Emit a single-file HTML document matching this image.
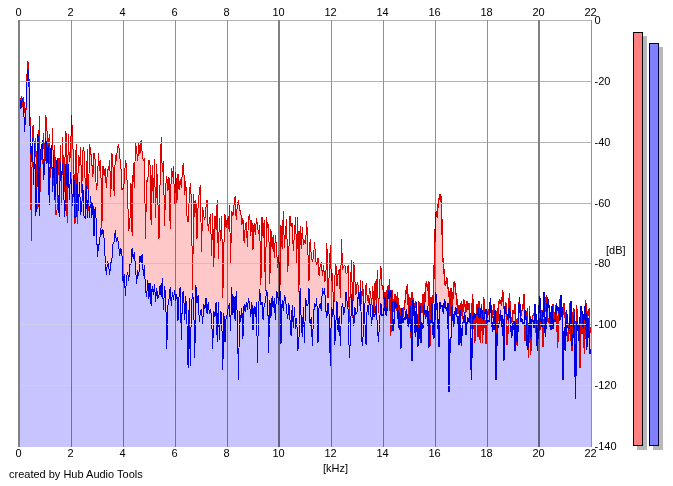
<!DOCTYPE html>
<html><head><meta charset="utf-8"><title>Spectrum</title>
<style>
html,body{margin:0;padding:0;background:#fff;}
body{width:673px;height:486px;overflow:hidden;position:relative;}
svg{position:absolute;left:0;top:0;}
text{font-family:"Liberation Sans",Arial,sans-serif;font-size:11px;fill:#000;}
</style></head><body>
<svg width="673" height="486" viewBox="0 0 673 486">
<g shape-rendering="crispEdges">
<path d="M20.0,447.0 L20.0,130.0 L19.0,130.0 L20.1,105.0 L21.2,96.5 L22.4,106.5 L23.5,97.4 L24.6,106.7 L25.7,122.6 L26.3,98.0 L26.8,80.0 L27.3,66.0 L27.7,61.0 L28.1,64.0 L28.5,62.0 L29.0,78.0 L29.6,100.0 L30.2,124.0 L31.3,241.0 L32.4,127.0 L33.6,126.0 L34.7,165.0 L35.8,138.0 L36.9,203.7 L38.0,208.7 L39.2,116.0 L40.3,192.2 L41.4,143.7 L42.5,163.8 L43.6,132.6 L44.8,164.0 L45.9,115.0 L47.0,130.7 L48.1,159.5 L49.2,134.4 L50.4,178.3 L51.5,161.5 L52.6,128.0 L53.7,185.7 L54.8,145.5 L56.0,215.4 L57.1,209.5 L58.2,158.5 L59.3,181.0 L60.4,145.5 L61.5,205.0 L62.7,137.0 L63.8,199.7 L64.9,159.9 L66.0,130.7 L67.1,222.7 L68.3,134.4 L69.4,162.0 L70.5,154.1 L71.6,115.0 L72.7,141.8 L73.9,168.4 L75.0,224.0 L76.1,143.7 L77.2,224.3 L78.3,154.8 L79.5,165.5 L80.6,147.4 L81.7,193.4 L82.8,151.0 L83.9,147.4 L85.1,180.7 L86.2,193.6 L87.3,149.0 L88.4,211.0 L89.5,143.7 L90.7,151.0 L91.8,162.9 L92.9,176.8 L94.0,153.0 L95.1,160.0 L96.3,189.7 L97.4,183.3 L98.5,153.0 L99.6,171.0 L100.7,160.0 L101.9,228.0 L103.0,166.0 L104.1,176.0 L105.2,167.8 L106.3,188.0 L107.5,169.6 L108.6,169.6 L109.7,160.0 L110.8,196.9 L111.9,153.0 L113.1,167.8 L114.2,195.8 L115.3,154.8 L116.4,161.4 L117.5,146.9 L118.7,144.0 L119.8,157.5 L120.9,166.0 L122.0,190.0 L123.1,188.4 L124.3,183.0 L125.4,159.8 L126.5,166.0 L127.6,196.1 L128.7,231.0 L129.9,222.4 L131.0,183.0 L132.1,235.7 L133.2,162.6 L134.3,188.3 L135.5,143.0 L136.6,149.6 L137.7,160.9 L138.8,143.0 L139.9,153.9 L141.1,140.4 L142.2,153.3 L143.3,160.5 L144.4,158.9 L145.5,238.9 L146.6,181.0 L147.8,181.5 L148.9,159.8 L150.0,164.4 L151.1,225.1 L152.2,165.4 L153.4,202.5 L154.5,158.9 L155.6,218.3 L156.7,164.4 L157.8,197.3 L159.0,239.0 L160.1,180.3 L161.2,136.7 L162.3,172.0 L163.4,160.7 L164.6,226.0 L165.7,185.4 L166.8,175.6 L167.9,191.4 L169.0,177.4 L170.2,228.9 L171.3,168.0 L172.4,177.1 L173.5,166.3 L174.6,204.0 L175.8,171.8 L176.9,203.0 L178.0,173.7 L179.1,190.4 L180.2,179.0 L181.4,187.8 L182.5,168.0 L183.6,162.6 L184.7,194.9 L185.8,181.0 L187.0,216.3 L188.1,222.0 L189.2,198.6 L190.3,183.0 L191.4,200.2 L192.6,290.0 L193.7,194.0 L194.8,216.5 L195.9,199.6 L197.0,239.0 L198.2,203.0 L199.3,192.0 L200.4,184.8 L201.5,251.7 L202.6,207.0 L203.8,216.0 L204.9,219.5 L206.0,207.0 L207.1,199.6 L208.2,231.3 L209.4,220.0 L210.5,214.4 L211.6,256.2 L212.7,213.5 L213.8,267.3 L215.0,216.0 L216.1,230.3 L217.2,200.5 L218.3,258.5 L219.4,218.0 L220.6,240.8 L221.7,216.0 L222.8,298.0 L223.9,245.0 L225.0,214.4 L226.1,227.8 L227.3,218.0 L228.4,229.3 L229.5,205.0 L230.6,263.1 L231.7,210.7 L232.9,216.2 L234.0,205.0 L235.1,196.0 L236.2,220.3 L237.3,205.0 L238.5,200.5 L239.6,210.9 L240.7,210.7 L241.8,225.4 L242.9,218.0 L244.1,243.2 L245.2,227.9 L246.3,221.8 L247.4,246.9 L248.5,218.0 L249.7,214.4 L250.8,235.5 L251.9,220.0 L253.0,249.8 L254.1,222.8 L255.3,235.2 L256.4,218.0 L257.5,225.5 L258.6,234.2 L259.7,225.5 L260.9,285.0 L262.0,217.0 L263.1,237.7 L264.2,220.0 L265.3,291.0 L266.5,217.0 L267.6,227.8 L268.7,223.7 L269.8,283.5 L270.9,229.0 L272.1,248.7 L273.2,234.8 L274.3,258.3 L275.4,234.8 L276.5,247.8 L277.7,268.1 L278.8,255.0 L279.9,292.4 L281.0,225.5 L282.1,249.2 L283.3,210.7 L284.4,247.7 L285.5,232.0 L286.6,219.0 L287.7,272.2 L288.9,249.5 L290.0,216.0 L291.1,227.0 L292.2,222.8 L293.3,251.3 L294.5,232.0 L295.6,217.0 L296.7,262.6 L297.8,217.0 L298.9,291.5 L300.1,226.5 L301.2,249.3 L302.3,227.4 L303.4,245.0 L304.5,241.0 L305.6,242.8 L306.8,221.0 L307.9,252.3 L309.0,280.5 L310.1,239.0 L311.2,254.1 L312.4,262.1 L313.5,256.0 L314.6,242.0 L315.7,260.4 L316.8,264.8 L318.0,258.0 L319.1,276.0 L320.2,265.7 L321.3,261.7 L322.4,275.8 L323.6,265.0 L324.7,282.4 L325.8,276.8 L326.9,243.0 L328.0,298.2 L329.2,274.8 L330.3,245.0 L331.4,280.7 L332.5,272.8 L333.6,314.7 L334.8,278.3 L335.9,263.5 L337.0,286.4 L338.1,273.5 L339.2,269.0 L340.4,298.2 L341.5,239.4 L342.6,268.6 L343.7,266.6 L344.8,265.0 L346.0,273.4 L347.1,272.9 L348.2,265.0 L349.3,321.6 L350.4,284.5 L351.6,260.0 L352.7,318.1 L353.8,261.7 L354.9,280.0 L356.0,294.6 L357.2,282.0 L358.3,286.1 L359.4,306.3 L360.5,280.0 L361.6,303.6 L362.8,281.0 L363.9,322.4 L365.0,303.3 L366.1,283.0 L367.2,297.0 L368.4,302.9 L369.5,288.0 L370.6,293.7 L371.7,304.8 L372.8,286.0 L374.0,313.7 L375.1,280.7 L376.2,303.9 L377.3,269.6 L378.4,312.8 L379.6,286.0 L380.7,266.0 L381.8,285.4 L382.9,286.0 L384.0,299.2 L385.2,292.0 L386.3,312.8 L387.4,286.0 L388.5,295.3 L389.6,279.0 L390.7,335.9 L391.9,290.0 L393.0,301.0 L394.1,312.1 L395.2,293.7 L396.3,310.9 L397.5,292.0 L398.6,311.9 L399.7,304.8 L400.8,335.1 L401.9,308.5 L403.1,317.1 L404.2,306.7 L405.3,299.8 L406.4,288.0 L407.5,286.0 L408.7,318.1 L409.8,297.4 L410.9,337.5 L412.0,292.0 L413.1,300.0 L414.3,314.3 L415.4,301.0 L416.5,304.8 L417.6,338.0 L418.7,301.0 L419.9,308.6 L421.0,303.0 L422.1,313.1 L423.2,293.7 L424.3,315.3 L425.5,284.4 L426.6,282.6 L427.7,290.6 L428.8,280.7 L429.9,345.6 L431.1,297.4 L432.2,313.8 L433.3,293.7 L433.5,290.0 L434.3,262.0 L435.0,235.0 L435.8,214.0 L436.5,211.0 L437.3,218.0 L438.0,205.0 L438.8,200.0 L439.5,197.0 L440.3,194.0 L441.0,197.0 L441.6,210.0 L442.2,235.0 L442.8,258.0 L443.5,265.0 L444.3,275.0 L445.2,285.0 L445.6,286.0 L446.7,277.0 L447.9,288.3 L449.0,291.8 L450.1,315.5 L451.2,288.0 L452.3,309.2 L453.5,286.0 L454.6,280.7 L455.7,292.0 L456.8,299.0 L457.9,314.2 L459.1,304.8 L460.2,330.8 L461.3,301.0 L462.4,319.4 L463.5,299.0 L464.7,303.0 L465.8,312.5 L466.9,301.0 L468.0,310.3 L469.1,303.0 L470.2,323.3 L471.4,329.2 L472.5,294.0 L473.6,312.6 L474.7,342.6 L475.8,323.5 L477.0,304.0 L478.1,337.4 L479.2,300.7 L480.3,343.1 L481.4,304.0 L482.6,343.3 L483.7,297.0 L484.8,319.3 L485.9,343.5 L487.0,313.6 L488.2,310.8 L489.3,315.3 L490.4,299.0 L491.5,314.0 L492.6,317.5 L493.8,304.0 L494.9,322.9 L496.0,311.1 L497.1,344.4 L498.2,308.1 L499.4,299.8 L500.5,301.6 L501.6,305.4 L502.7,289.6 L503.8,307.7 L505.0,306.8 L506.1,302.6 L507.2,345.2 L508.3,324.8 L509.4,293.0 L510.6,317.1 L511.7,323.1 L512.8,310.1 L513.9,313.8 L515.0,304.0 L516.2,326.5 L517.3,346.1 L518.4,312.2 L519.5,299.0 L520.6,317.4 L521.8,310.5 L522.9,308.5 L524.0,294.0 L525.1,341.2 L526.2,324.4 L527.4,308.4 L528.5,357.6 L529.6,306.0 L530.7,355.0 L531.8,320.9 L533.0,315.5 L534.1,313.7 L535.2,308.0 L536.3,334.9 L537.4,331.5 L538.6,315.1 L539.7,330.9 L540.8,324.7 L541.9,310.0 L543.0,347.0 L544.2,319.4 L545.3,306.4 L546.4,295.0 L547.5,321.6 L548.6,317.8 L549.8,327.3 L550.9,317.8 L552.0,313.9 L553.1,304.0 L554.2,319.5 L555.3,311.7 L556.5,302.6 L557.6,348.1 L558.7,314.0 L559.8,299.0 L560.9,306.8 L562.1,312.6 L563.2,313.8 L564.3,302.6 L565.4,321.8 L566.5,328.9 L567.7,341.6 L568.8,335.3 L569.9,303.0 L571.0,338.2 L572.1,350.5 L573.3,308.9 L574.4,309.3 L575.5,350.8 L576.6,305.0 L577.7,324.3 L578.9,326.5 L580.0,368.0 L581.1,307.6 L582.2,334.4 L583.3,328.1 L584.5,354.0 L585.6,300.0 L586.7,318.3 L587.8,312.0 L588.9,310.0 L590.1,333.1 L591.0,333.1 L591.0,447.0 Z" fill="#ffc8c8"/>
<path d="M20.0,447.0 L20.0,215.0 L19.0,215.0 L20.1,100.0 L21.2,107.7 L22.4,98.0 L23.5,104.0 L24.6,132.1 L25.7,112.0 L26.3,104.0 L26.8,88.0 L27.3,74.0 L27.7,69.0 L28.1,72.0 L28.5,70.0 L29.0,87.0 L29.6,108.0 L30.2,134.0 L31.3,161.7 L32.4,138.0 L33.6,184.5 L34.7,143.0 L35.8,215.7 L36.9,193.2 L38.0,134.0 L39.2,215.8 L40.3,150.0 L41.4,148.7 L42.5,140.0 L43.6,179.5 L44.8,166.1 L45.9,138.0 L47.0,163.5 L48.1,145.5 L49.2,204.5 L50.4,150.5 L51.5,145.5 L52.6,191.5 L53.7,155.0 L54.8,200.1 L56.0,184.4 L57.1,158.5 L58.2,202.5 L59.3,216.6 L60.4,162.0 L61.5,177.7 L62.7,164.0 L63.8,196.4 L64.9,216.9 L66.0,164.0 L67.1,186.5 L68.3,164.0 L69.4,200.2 L70.5,172.0 L71.6,186.7 L72.7,205.7 L73.9,175.0 L75.0,217.3 L76.1,216.4 L77.2,177.0 L78.3,211.4 L79.5,182.0 L80.6,214.9 L81.7,208.0 L82.8,184.0 L83.9,215.5 L85.1,217.7 L86.2,186.0 L87.3,217.8 L88.4,190.0 L89.5,217.9 L90.7,196.0 L91.8,218.0 L92.9,203.0 L94.0,236.4 L95.1,207.0 L96.3,222.0 L97.4,256.7 L98.5,246.0 L99.6,242.6 L100.7,227.8 L101.9,234.8 L103.0,229.6 L104.1,239.0 L105.2,259.0 L106.3,275.2 L107.5,261.0 L108.6,264.8 L109.7,274.8 L110.8,263.0 L111.9,260.0 L113.1,242.6 L114.2,241.9 L115.3,229.6 L116.4,242.0 L117.5,237.0 L118.7,246.3 L119.8,255.8 L120.9,248.0 L122.0,255.6 L123.1,283.0 L124.3,274.0 L125.4,295.9 L126.5,277.8 L127.6,272.0 L128.7,280.8 L129.9,264.8 L131.0,264.6 L132.1,248.0 L133.2,259.4 L134.3,251.9 L135.5,266.7 L136.6,283.8 L137.7,270.4 L138.8,275.7 L139.9,255.6 L141.1,262.7 L142.2,253.7 L143.3,275.8 L144.4,264.8 L145.5,290.0 L146.6,296.7 L147.8,279.6 L148.9,299.2 L150.0,283.0 L151.1,306.3 L152.2,286.0 L153.4,294.8 L154.5,284.0 L155.6,301.5 L156.7,288.0 L157.8,298.9 L159.0,294.9 L160.1,285.0 L161.2,296.6 L162.3,277.8 L163.4,309.7 L164.6,286.0 L165.7,296.9 L166.8,349.0 L167.9,305.8 L169.0,299.4 L170.2,287.0 L171.3,306.0 L172.4,292.0 L173.5,299.5 L174.6,290.0 L175.8,300.6 L176.9,294.0 L178.0,321.1 L179.1,294.7 L180.2,287.0 L181.4,340.0 L182.5,293.0 L183.6,292.0 L184.7,320.2 L185.8,296.5 L187.0,325.0 L188.1,368.0 L189.2,297.6 L190.3,366.0 L191.4,306.1 L192.6,292.8 L193.7,304.0 L194.8,357.6 L195.9,285.4 L197.0,303.4 L198.2,294.6 L199.3,322.3 L200.4,311.0 L201.5,309.4 L202.6,323.9 L203.8,304.0 L204.9,309.1 L206.0,298.0 L207.1,314.0 L208.2,302.0 L209.4,313.7 L210.5,309.4 L211.6,316.8 L212.7,349.0 L213.8,311.0 L215.0,316.8 L216.1,302.0 L217.2,341.8 L218.3,302.0 L219.4,339.6 L220.6,311.0 L221.7,315.0 L222.8,369.5 L223.9,313.0 L225.0,342.0 L226.1,316.8 L227.3,314.8 L228.4,305.7 L229.5,304.0 L230.6,331.4 L231.7,287.0 L232.9,314.7 L234.0,296.5 L235.1,321.3 L236.2,291.0 L237.3,316.8 L238.5,379.8 L239.6,311.0 L240.7,321.9 L241.8,307.6 L242.9,339.2 L244.1,304.0 L245.2,312.2 L246.3,302.0 L247.4,309.9 L248.5,298.0 L249.7,305.7 L250.8,316.6 L251.9,302.0 L253.0,330.1 L254.1,305.7 L255.3,317.1 L256.4,302.0 L257.5,362.7 L258.6,307.7 L259.7,289.0 L260.9,304.9 L262.0,302.0 L263.1,320.0 L264.2,304.0 L265.3,302.4 L266.5,291.0 L267.6,292.8 L268.7,352.5 L269.8,300.0 L270.9,318.4 L272.1,296.5 L273.2,308.4 L274.3,298.0 L275.4,320.3 L276.5,291.0 L277.7,294.6 L278.8,304.9 L279.9,285.4 L281.0,343.6 L282.1,300.0 L283.3,310.5 L284.4,296.0 L285.5,297.8 L286.6,310.3 L287.7,319.4 L288.9,303.0 L290.0,319.8 L291.1,335.7 L292.2,305.0 L293.3,327.8 L294.5,307.0 L295.6,329.2 L296.7,318.0 L297.8,350.8 L298.9,342.4 L300.1,287.6 L301.2,320.5 L302.3,337.3 L303.4,307.0 L304.5,342.8 L305.6,297.8 L306.8,305.4 L307.9,305.9 L309.0,288.5 L310.1,325.8 L311.2,317.2 L312.4,345.6 L313.5,315.2 L314.6,303.0 L315.7,307.0 L316.8,298.0 L318.0,343.0 L319.1,305.0 L320.2,304.2 L321.3,311.2 L322.4,288.5 L323.6,294.0 L324.7,288.5 L325.8,310.0 L326.9,317.8 L328.0,303.0 L329.2,316.3 L330.3,366.0 L331.4,307.0 L332.5,317.4 L333.6,299.6 L334.8,345.0 L335.9,322.5 L337.0,301.5 L338.1,332.0 L339.2,315.8 L340.4,345.6 L341.5,309.7 L342.6,303.0 L343.7,313.2 L344.8,310.8 L346.0,292.0 L347.1,301.7 L348.2,310.7 L349.3,357.6 L350.4,339.7 L351.6,294.0 L352.7,310.5 L353.8,326.3 L354.9,307.0 L356.0,314.4 L357.2,311.6 L358.3,292.0 L359.4,302.1 L360.5,286.7 L361.6,340.5 L362.8,345.8 L363.9,301.5 L365.0,324.5 L366.1,345.3 L367.2,305.0 L368.4,315.0 L369.5,297.8 L370.6,310.9 L371.7,326.2 L372.8,305.0 L374.0,316.7 L375.1,314.2 L376.2,304.0 L377.3,325.7 L378.4,342.3 L379.6,321.7 L380.7,303.0 L381.8,315.3 L382.9,315.8 L384.0,310.3 L385.2,297.0 L386.3,316.0 L387.4,305.3 L388.5,290.0 L389.6,298.6 L390.7,290.0 L391.9,302.1 L393.0,331.3 L394.1,321.3 L395.2,301.0 L396.3,307.5 L397.5,303.0 L398.6,328.3 L399.7,312.5 L400.8,349.0 L401.9,308.0 L403.1,322.8 L404.2,317.9 L405.3,318.9 L406.4,309.0 L407.5,323.0 L408.7,327.1 L409.8,306.0 L410.9,319.8 L412.0,361.0 L413.1,300.0 L414.3,309.2 L415.4,337.3 L416.5,302.0 L417.6,347.3 L418.7,342.6 L419.9,306.0 L421.0,343.1 L422.1,323.9 L423.2,325.7 L424.3,304.0 L425.5,317.2 L426.6,314.8 L427.7,306.0 L428.8,347.6 L429.9,321.1 L431.1,321.9 L432.2,303.0 L433.3,337.9 L434.4,337.5 L435.5,292.0 L436.7,301.5 L437.8,318.5 L438.9,346.5 L440.0,302.0 L441.1,306.1 L442.3,306.1 L443.4,313.6 L444.5,299.0 L445.6,307.1 L446.7,309.5 L447.9,303.0 L449.0,391.8 L450.1,339.2 L451.2,337.5 L452.3,305.0 L453.5,326.6 L454.6,316.7 L455.7,307.0 L456.8,316.3 L457.9,316.5 L459.1,345.2 L460.2,310.0 L461.3,345.9 L462.4,324.4 L463.5,320.9 L464.7,312.0 L465.8,335.4 L466.9,323.1 L468.0,318.4 L469.1,322.0 L470.2,313.0 L471.4,379.8 L472.5,323.6 L473.6,312.0 L474.7,318.5 L475.8,314.7 L477.0,314.6 L478.1,307.0 L479.2,318.3 L480.3,316.7 L481.4,306.0 L482.6,318.2 L483.7,319.8 L484.8,313.9 L485.9,309.0 L487.0,322.2 L488.2,321.1 L489.3,321.5 L490.4,298.0 L491.5,318.2 L492.6,332.0 L493.8,319.0 L494.9,310.0 L496.0,379.8 L497.1,334.4 L498.2,324.1 L499.4,323.6 L500.5,310.0 L501.6,326.9 L502.7,314.8 L503.8,361.0 L505.0,306.0 L506.1,313.7 L507.2,314.7 L508.3,320.9 L509.4,305.0 L510.6,323.3 L511.7,338.0 L512.8,323.8 L513.9,321.3 L515.0,350.8 L516.2,322.8 L517.3,343.0 L518.4,320.8 L519.5,297.0 L520.6,322.1 L521.8,319.4 L522.9,323.7 L524.0,324.7 L525.1,310.0 L526.2,319.5 L527.4,350.3 L528.5,343.7 L529.6,312.0 L530.7,339.1 L531.8,320.3 L533.0,321.0 L534.1,327.8 L535.2,304.0 L536.3,322.5 L537.4,350.5 L538.6,317.0 L539.7,296.0 L540.8,318.5 L541.9,326.6 L543.0,315.0 L544.2,292.0 L545.3,336.8 L546.4,320.0 L547.5,297.0 L548.6,303.4 L549.8,312.0 L550.9,329.6 L552.0,306.0 L553.1,328.9 L554.2,318.7 L555.3,322.2 L556.5,304.0 L557.6,310.7 L558.7,306.8 L559.8,321.0 L560.9,295.0 L562.1,310.4 L563.2,379.8 L564.3,327.2 L565.4,351.3 L566.5,310.0 L567.7,326.5 L568.8,329.1 L569.9,323.8 L571.0,301.0 L572.1,345.5 L573.3,332.5 L574.4,312.5 L575.5,398.6 L576.6,320.7 L577.7,323.4 L578.9,340.8 L580.0,320.1 L581.1,306.0 L582.2,314.4 L583.3,328.5 L584.5,309.6 L585.6,304.0 L586.7,350.2 L587.8,318.1 L588.9,331.8 L590.1,354.0 L591.0,354.0 L591.0,447.0 Z" fill="#c8c4ff"/>
<rect x="33" y="142" width="1" height="1" fill="#e8b4b4"/>
<rect x="39" y="142" width="1" height="1" fill="#e8b4b4"/>
<rect x="43" y="142" width="1" height="1" fill="#e8b4b4"/>
<rect x="45" y="142" width="2" height="1" fill="#e8b4b4"/>
<rect x="52" y="142" width="1" height="1" fill="#e8b4b4"/>
<rect x="68" y="142" width="1" height="1" fill="#e8b4b4"/>
<rect x="72" y="142" width="1" height="1" fill="#e8b4b4"/>
<rect x="58" y="203" width="2" height="1" fill="#e8b4b4"/>
<rect x="64" y="203" width="1" height="1" fill="#e8b4b4"/>
<rect x="75" y="203" width="1" height="1" fill="#e8b4b4"/>
<rect x="78" y="203" width="1" height="1" fill="#e8b4b4"/>
<rect x="80" y="203" width="2" height="1" fill="#e8b4b4"/>
<rect x="84" y="203" width="2" height="1" fill="#e8b4b4"/>
<rect x="87" y="203" width="1" height="1" fill="#e8b4b4"/>
<rect x="89" y="203" width="1" height="1" fill="#e8b4b4"/>
<rect x="91" y="203" width="10" height="1" fill="#e8b4b4"/>
<rect x="102" y="203" width="21" height="1" fill="#e8b4b4"/>
<rect x="124" y="203" width="4" height="1" fill="#e8b4b4"/>
<rect x="130" y="203" width="1" height="1" fill="#e8b4b4"/>
<rect x="133" y="203" width="12" height="1" fill="#e8b4b4"/>
<rect x="146" y="203" width="5" height="1" fill="#e8b4b4"/>
<rect x="152" y="203" width="3" height="1" fill="#e8b4b4"/>
<rect x="156" y="203" width="2" height="1" fill="#e8b4b4"/>
<rect x="160" y="203" width="4" height="1" fill="#e8b4b4"/>
<rect x="165" y="203" width="5" height="1" fill="#e8b4b4"/>
<rect x="171" y="203" width="4" height="1" fill="#e8b4b4"/>
<rect x="176" y="203" width="11" height="1" fill="#e8b4b4"/>
<rect x="189" y="203" width="2" height="1" fill="#e8b4b4"/>
<rect x="198" y="203" width="3" height="1" fill="#e8b4b4"/>
<rect x="234" y="203" width="1" height="1" fill="#e8b4b4"/>
<rect x="238" y="203" width="1" height="1" fill="#e8b4b4"/>
<rect x="438" y="203" width="3" height="1" fill="#e8b4b4"/>
<rect x="106" y="263" width="1" height="1" fill="#e8b4b4"/>
<rect x="108" y="263" width="3" height="1" fill="#e8b4b4"/>
<rect x="122" y="263" width="1" height="1" fill="#e8b4b4"/>
<rect x="124" y="263" width="7" height="1" fill="#e8b4b4"/>
<rect x="135" y="263" width="4" height="1" fill="#e8b4b4"/>
<rect x="143" y="263" width="32" height="1" fill="#e8b4b4"/>
<rect x="176" y="263" width="16" height="1" fill="#e8b4b4"/>
<rect x="193" y="263" width="29" height="1" fill="#e8b4b4"/>
<rect x="224" y="263" width="3" height="1" fill="#e8b4b4"/>
<rect x="228" y="263" width="32" height="1" fill="#e8b4b4"/>
<rect x="261" y="263" width="4" height="1" fill="#e8b4b4"/>
<rect x="266" y="263" width="3" height="1" fill="#e8b4b4"/>
<rect x="270" y="263" width="7" height="1" fill="#e8b4b4"/>
<rect x="280" y="263" width="28" height="1" fill="#e8b4b4"/>
<rect x="309" y="263" width="9" height="1" fill="#e8b4b4"/>
<rect x="326" y="263" width="1" height="1" fill="#e8b4b4"/>
<rect x="330" y="263" width="1" height="1" fill="#e8b4b4"/>
<rect x="341" y="263" width="1" height="1" fill="#e8b4b4"/>
<rect x="351" y="263" width="1" height="1" fill="#e8b4b4"/>
<rect x="434" y="263" width="1" height="1" fill="#e8b4b4"/>
<rect x="436" y="263" width="7" height="1" fill="#e8b4b4"/>
<rect x="166" y="324" width="1" height="1" fill="#e8b4b4"/>
<rect x="181" y="324" width="1" height="1" fill="#e8b4b4"/>
<rect x="187" y="324" width="2" height="1" fill="#e8b4b4"/>
<rect x="190" y="324" width="1" height="1" fill="#e8b4b4"/>
<rect x="194" y="324" width="1" height="1" fill="#e8b4b4"/>
<rect x="212" y="324" width="1" height="1" fill="#e8b4b4"/>
<rect x="217" y="324" width="1" height="1" fill="#e8b4b4"/>
<rect x="219" y="324" width="1" height="1" fill="#e8b4b4"/>
<rect x="222" y="324" width="4" height="1" fill="#e8b4b4"/>
<rect x="230" y="324" width="1" height="1" fill="#e8b4b4"/>
<rect x="237" y="324" width="2" height="1" fill="#e8b4b4"/>
<rect x="242" y="324" width="1" height="1" fill="#e8b4b4"/>
<rect x="257" y="324" width="1" height="1" fill="#e8b4b4"/>
<rect x="268" y="324" width="1" height="1" fill="#e8b4b4"/>
<rect x="281" y="324" width="1" height="1" fill="#e8b4b4"/>
<rect x="290" y="324" width="2" height="1" fill="#e8b4b4"/>
<rect x="293" y="324" width="1" height="1" fill="#e8b4b4"/>
<rect x="295" y="324" width="1" height="1" fill="#e8b4b4"/>
<rect x="297" y="324" width="2" height="1" fill="#e8b4b4"/>
<rect x="301" y="324" width="2" height="1" fill="#e8b4b4"/>
<rect x="304" y="324" width="1" height="1" fill="#e8b4b4"/>
<rect x="312" y="324" width="1" height="1" fill="#e8b4b4"/>
<rect x="318" y="324" width="1" height="1" fill="#e8b4b4"/>
<rect x="329" y="324" width="2" height="1" fill="#e8b4b4"/>
<rect x="334" y="324" width="2" height="1" fill="#e8b4b4"/>
<rect x="338" y="324" width="1" height="1" fill="#e8b4b4"/>
<rect x="340" y="324" width="1" height="1" fill="#e8b4b4"/>
<rect x="349" y="324" width="2" height="1" fill="#e8b4b4"/>
<rect x="361" y="324" width="2" height="1" fill="#e8b4b4"/>
<rect x="365" y="324" width="2" height="1" fill="#e8b4b4"/>
<rect x="377" y="324" width="2" height="1" fill="#e8b4b4"/>
<rect x="393" y="324" width="1" height="1" fill="#e8b4b4"/>
<rect x="398" y="324" width="1" height="1" fill="#e8b4b4"/>
<rect x="408" y="324" width="1" height="1" fill="#e8b4b4"/>
<rect x="411" y="324" width="2" height="1" fill="#e8b4b4"/>
<rect x="415" y="324" width="1" height="1" fill="#e8b4b4"/>
<rect x="418" y="324" width="1" height="1" fill="#e8b4b4"/>
<rect x="420" y="324" width="3" height="1" fill="#e8b4b4"/>
<rect x="428" y="324" width="2" height="1" fill="#e8b4b4"/>
<rect x="433" y="324" width="2" height="1" fill="#e8b4b4"/>
<rect x="438" y="324" width="1" height="1" fill="#e8b4b4"/>
<rect x="448" y="324" width="4" height="1" fill="#e8b4b4"/>
<rect x="453" y="324" width="1" height="1" fill="#e8b4b4"/>
<rect x="458" y="324" width="2" height="1" fill="#e8b4b4"/>
<rect x="461" y="324" width="1" height="1" fill="#e8b4b4"/>
<rect x="465" y="324" width="2" height="1" fill="#e8b4b4"/>
<rect x="492" y="324" width="1" height="1" fill="#e8b4b4"/>
<rect x="495" y="324" width="1" height="1" fill="#e8b4b4"/>
<rect x="501" y="324" width="1" height="1" fill="#e8b4b4"/>
<rect x="503" y="324" width="2" height="1" fill="#e8b4b4"/>
<rect x="511" y="324" width="2" height="1" fill="#e8b4b4"/>
<rect x="514" y="324" width="2" height="1" fill="#e8b4b4"/>
<rect x="526" y="324" width="2" height="1" fill="#e8b4b4"/>
<rect x="545" y="324" width="1" height="1" fill="#e8b4b4"/>
<rect x="553" y="324" width="1" height="1" fill="#e8b4b4"/>
<rect x="562" y="324" width="4" height="1" fill="#e8b4b4"/>
<rect x="569" y="324" width="1" height="1" fill="#e8b4b4"/>
<rect x="573" y="324" width="1" height="1" fill="#e8b4b4"/>
<rect x="576" y="324" width="1" height="1" fill="#e8b4b4"/>
<rect x="586" y="324" width="4" height="1" fill="#e8b4b4"/>
<rect x="575" y="385" width="1" height="1" fill="#e8b4b4"/>
<polyline points="19.0,130.0 20.1,105.0 21.2,96.5 22.4,106.5 23.5,97.4 24.6,106.7 25.7,122.6 26.3,98.0 26.8,80.0 27.3,66.0 27.7,61.0 28.1,64.0 28.5,62.0 29.0,78.0 29.6,100.0 30.2,124.0 31.3,241.0 32.4,127.0 33.6,126.0 34.7,165.0 35.8,138.0 36.9,203.7 38.0,208.7 39.2,116.0 40.3,192.2 41.4,143.7 42.5,163.8 43.6,132.6 44.8,164.0 45.9,115.0 47.0,130.7 48.1,159.5 49.2,134.4 50.4,178.3 51.5,161.5 52.6,128.0 53.7,185.7 54.8,145.5 56.0,215.4 57.1,209.5 58.2,158.5 59.3,181.0 60.4,145.5 61.5,205.0 62.7,137.0 63.8,199.7 64.9,159.9 66.0,130.7 67.1,222.7 68.3,134.4 69.4,162.0 70.5,154.1 71.6,115.0 72.7,141.8 73.9,168.4 75.0,224.0 76.1,143.7 77.2,224.3 78.3,154.8 79.5,165.5 80.6,147.4 81.7,193.4 82.8,151.0 83.9,147.4 85.1,180.7 86.2,193.6 87.3,149.0 88.4,211.0 89.5,143.7 90.7,151.0 91.8,162.9 92.9,176.8 94.0,153.0 95.1,160.0 96.3,189.7 97.4,183.3 98.5,153.0 99.6,171.0 100.7,160.0 101.9,228.0 103.0,166.0 104.1,176.0 105.2,167.8 106.3,188.0 107.5,169.6 108.6,169.6 109.7,160.0 110.8,196.9 111.9,153.0 113.1,167.8 114.2,195.8 115.3,154.8 116.4,161.4 117.5,146.9 118.7,144.0 119.8,157.5 120.9,166.0 122.0,190.0 123.1,188.4 124.3,183.0 125.4,159.8 126.5,166.0 127.6,196.1 128.7,231.0 129.9,222.4 131.0,183.0 132.1,235.7 133.2,162.6 134.3,188.3 135.5,143.0 136.6,149.6 137.7,160.9 138.8,143.0 139.9,153.9 141.1,140.4 142.2,153.3 143.3,160.5 144.4,158.9 145.5,238.9 146.6,181.0 147.8,181.5 148.9,159.8 150.0,164.4 151.1,225.1 152.2,165.4 153.4,202.5 154.5,158.9 155.6,218.3 156.7,164.4 157.8,197.3 159.0,239.0 160.1,180.3 161.2,136.7 162.3,172.0 163.4,160.7 164.6,226.0 165.7,185.4 166.8,175.6 167.9,191.4 169.0,177.4 170.2,228.9 171.3,168.0 172.4,177.1 173.5,166.3 174.6,204.0 175.8,171.8 176.9,203.0 178.0,173.7 179.1,190.4 180.2,179.0 181.4,187.8 182.5,168.0 183.6,162.6 184.7,194.9 185.8,181.0 187.0,216.3 188.1,222.0 189.2,198.6 190.3,183.0 191.4,200.2 192.6,290.0 193.7,194.0 194.8,216.5 195.9,199.6 197.0,239.0 198.2,203.0 199.3,192.0 200.4,184.8 201.5,251.7 202.6,207.0 203.8,216.0 204.9,219.5 206.0,207.0 207.1,199.6 208.2,231.3 209.4,220.0 210.5,214.4 211.6,256.2 212.7,213.5 213.8,267.3 215.0,216.0 216.1,230.3 217.2,200.5 218.3,258.5 219.4,218.0 220.6,240.8 221.7,216.0 222.8,298.0 223.9,245.0 225.0,214.4 226.1,227.8 227.3,218.0 228.4,229.3 229.5,205.0 230.6,263.1 231.7,210.7 232.9,216.2 234.0,205.0 235.1,196.0 236.2,220.3 237.3,205.0 238.5,200.5 239.6,210.9 240.7,210.7 241.8,225.4 242.9,218.0 244.1,243.2 245.2,227.9 246.3,221.8 247.4,246.9 248.5,218.0 249.7,214.4 250.8,235.5 251.9,220.0 253.0,249.8 254.1,222.8 255.3,235.2 256.4,218.0 257.5,225.5 258.6,234.2 259.7,225.5 260.9,285.0 262.0,217.0 263.1,237.7 264.2,220.0 265.3,291.0 266.5,217.0 267.6,227.8 268.7,223.7 269.8,283.5 270.9,229.0 272.1,248.7 273.2,234.8 274.3,258.3 275.4,234.8 276.5,247.8 277.7,268.1 278.8,255.0 279.9,292.4 281.0,225.5 282.1,249.2 283.3,210.7 284.4,247.7 285.5,232.0 286.6,219.0 287.7,272.2 288.9,249.5 290.0,216.0 291.1,227.0 292.2,222.8 293.3,251.3 294.5,232.0 295.6,217.0 296.7,262.6 297.8,217.0 298.9,291.5 300.1,226.5 301.2,249.3 302.3,227.4 303.4,245.0 304.5,241.0 305.6,242.8 306.8,221.0 307.9,252.3 309.0,280.5 310.1,239.0 311.2,254.1 312.4,262.1 313.5,256.0 314.6,242.0 315.7,260.4 316.8,264.8 318.0,258.0 319.1,276.0 320.2,265.7 321.3,261.7 322.4,275.8 323.6,265.0 324.7,282.4 325.8,276.8 326.9,243.0 328.0,298.2 329.2,274.8 330.3,245.0 331.4,280.7 332.5,272.8 333.6,314.7 334.8,278.3 335.9,263.5 337.0,286.4 338.1,273.5 339.2,269.0 340.4,298.2 341.5,239.4 342.6,268.6 343.7,266.6 344.8,265.0 346.0,273.4 347.1,272.9 348.2,265.0 349.3,321.6 350.4,284.5 351.6,260.0 352.7,318.1 353.8,261.7 354.9,280.0 356.0,294.6 357.2,282.0 358.3,286.1 359.4,306.3 360.5,280.0 361.6,303.6 362.8,281.0 363.9,322.4 365.0,303.3 366.1,283.0 367.2,297.0 368.4,302.9 369.5,288.0 370.6,293.7 371.7,304.8 372.8,286.0 374.0,313.7 375.1,280.7 376.2,303.9 377.3,269.6 378.4,312.8 379.6,286.0 380.7,266.0" fill="none" stroke="#e00000" stroke-width="1"/>
<polyline points="380.7,266.0 381.8,285.4 382.9,286.0 384.0,299.2 385.2,292.0 386.3,312.8 387.4,286.0 388.5,295.3 389.6,279.0 390.7,335.9 391.9,290.0 393.0,301.0 394.1,312.1 395.2,293.7 396.3,310.9 397.5,292.0 398.6,311.9 399.7,304.8 400.8,335.1 401.9,308.5 403.1,317.1 404.2,306.7 405.3,299.8 406.4,288.0 407.5,286.0 408.7,318.1 409.8,297.4 410.9,337.5 412.0,292.0 413.1,300.0 414.3,314.3 415.4,301.0 416.5,304.8 417.6,338.0 418.7,301.0 419.9,308.6 421.0,303.0 422.1,313.1 423.2,293.7 424.3,315.3 425.5,284.4 426.6,282.6 427.7,290.6 428.8,280.7 429.9,345.6 431.1,297.4 432.2,313.8 433.3,293.7 433.5,290.0 434.3,262.0 435.0,235.0 435.8,214.0 436.5,211.0 437.3,218.0 438.0,205.0 438.8,200.0 439.5,197.0 440.3,194.0 441.0,197.0 441.6,210.0 442.2,235.0 442.8,258.0 443.5,265.0 444.3,275.0 445.2,285.0 445.6,286.0 446.7,277.0 447.9,288.3 449.0,291.8 450.1,315.5 451.2,288.0 452.3,309.2 453.5,286.0 454.6,280.7 455.7,292.0 456.8,299.0 457.9,314.2 459.1,304.8 460.2,330.8 461.3,301.0 462.4,319.4 463.5,299.0 464.7,303.0 465.8,312.5 466.9,301.0 468.0,310.3 469.1,303.0 470.2,323.3 471.4,329.2 472.5,294.0 473.6,312.6 474.7,342.6 475.8,323.5 477.0,304.0 478.1,337.4 479.2,300.7 480.3,343.1 481.4,304.0 482.6,343.3 483.7,297.0 484.8,319.3 485.9,343.5 487.0,313.6 488.2,310.8 489.3,315.3 490.4,299.0 491.5,314.0 492.6,317.5 493.8,304.0 494.9,322.9 496.0,311.1 497.1,344.4 498.2,308.1 499.4,299.8 500.5,301.6 501.6,305.4 502.7,289.6 503.8,307.7 505.0,306.8 506.1,302.6 507.2,345.2 508.3,324.8 509.4,293.0 510.6,317.1 511.7,323.1 512.8,310.1 513.9,313.8 515.0,304.0 516.2,326.5 517.3,346.1 518.4,312.2 519.5,299.0 520.6,317.4 521.8,310.5 522.9,308.5 524.0,294.0 525.1,341.2 526.2,324.4 527.4,308.4 528.5,357.6 529.6,306.0 530.7,355.0 531.8,320.9 533.0,315.5 534.1,313.7 535.2,308.0 536.3,334.9 537.4,331.5 538.6,315.1 539.7,330.9 540.8,324.7 541.9,310.0 543.0,347.0 544.2,319.4 545.3,306.4 546.4,295.0 547.5,321.6 548.6,317.8 549.8,327.3 550.9,317.8 552.0,313.9 553.1,304.0 554.2,319.5 555.3,311.7 556.5,302.6 557.6,348.1 558.7,314.0 559.8,299.0 560.9,306.8 562.1,312.6 563.2,313.8 564.3,302.6 565.4,321.8 566.5,328.9 567.7,341.6 568.8,335.3 569.9,303.0 571.0,338.2 572.1,350.5 573.3,308.9 574.4,309.3 575.5,350.8 576.6,305.0 577.7,324.3 578.9,326.5 580.0,368.0 581.1,307.6 582.2,334.4 583.3,328.1 584.5,354.0 585.6,300.0 586.7,318.3 587.8,312.0 588.9,310.0 590.1,333.1" fill="none" stroke="#e00000" stroke-width="1.4"/>
<polyline points="19.0,215.0 20.1,100.0 21.2,107.7 22.4,98.0 23.5,104.0 24.6,132.1 25.7,112.0 26.3,104.0 26.8,88.0 27.3,74.0 27.7,69.0 28.1,72.0 28.5,70.0 29.0,87.0 29.6,108.0 30.2,134.0 31.3,161.7 32.4,138.0 33.6,184.5 34.7,143.0 35.8,215.7 36.9,193.2 38.0,134.0 39.2,215.8 40.3,150.0 41.4,148.7 42.5,140.0 43.6,179.5 44.8,166.1 45.9,138.0 47.0,163.5 48.1,145.5 49.2,204.5 50.4,150.5 51.5,145.5 52.6,191.5 53.7,155.0 54.8,200.1 56.0,184.4 57.1,158.5 58.2,202.5 59.3,216.6 60.4,162.0 61.5,177.7 62.7,164.0 63.8,196.4 64.9,216.9 66.0,164.0 67.1,186.5 68.3,164.0 69.4,200.2 70.5,172.0 71.6,186.7 72.7,205.7 73.9,175.0 75.0,217.3 76.1,216.4 77.2,177.0 78.3,211.4 79.5,182.0 80.6,214.9 81.7,208.0 82.8,184.0 83.9,215.5 85.1,217.7 86.2,186.0 87.3,217.8 88.4,190.0 89.5,217.9 90.7,196.0 91.8,218.0 92.9,203.0 94.0,236.4 95.1,207.0 96.3,222.0 97.4,256.7 98.5,246.0 99.6,242.6 100.7,227.8 101.9,234.8 103.0,229.6 104.1,239.0 105.2,259.0 106.3,275.2 107.5,261.0 108.6,264.8 109.7,274.8 110.8,263.0 111.9,260.0 113.1,242.6 114.2,241.9 115.3,229.6 116.4,242.0 117.5,237.0 118.7,246.3 119.8,255.8 120.9,248.0 122.0,255.6 123.1,283.0 124.3,274.0 125.4,295.9 126.5,277.8 127.6,272.0 128.7,280.8 129.9,264.8 131.0,264.6 132.1,248.0 133.2,259.4 134.3,251.9 135.5,266.7 136.6,283.8 137.7,270.4 138.8,275.7 139.9,255.6 141.1,262.7 142.2,253.7 143.3,275.8 144.4,264.8 145.5,290.0 146.6,296.7 147.8,279.6 148.9,299.2 150.0,283.0 151.1,306.3 152.2,286.0 153.4,294.8 154.5,284.0 155.6,301.5 156.7,288.0 157.8,298.9 159.0,294.9 160.1,285.0 161.2,296.6 162.3,277.8 163.4,309.7 164.6,286.0 165.7,296.9 166.8,349.0 167.9,305.8 169.0,299.4 170.2,287.0 171.3,306.0 172.4,292.0 173.5,299.5 174.6,290.0 175.8,300.6 176.9,294.0 178.0,321.1 179.1,294.7 180.2,287.0 181.4,340.0 182.5,293.0 183.6,292.0 184.7,320.2 185.8,296.5 187.0,325.0 188.1,368.0 189.2,297.6 190.3,366.0 191.4,306.1 192.6,292.8 193.7,304.0 194.8,357.6 195.9,285.4 197.0,303.4 198.2,294.6 199.3,322.3 200.4,311.0 201.5,309.4 202.6,323.9 203.8,304.0 204.9,309.1 206.0,298.0 207.1,314.0 208.2,302.0 209.4,313.7 210.5,309.4 211.6,316.8 212.7,349.0 213.8,311.0 215.0,316.8 216.1,302.0 217.2,341.8 218.3,302.0 219.4,339.6 220.6,311.0 221.7,315.0 222.8,369.5 223.9,313.0 225.0,342.0 226.1,316.8 227.3,314.8 228.4,305.7 229.5,304.0 230.6,331.4 231.7,287.0 232.9,314.7 234.0,296.5 235.1,321.3 236.2,291.0 237.3,316.8 238.5,379.8 239.6,311.0 240.7,321.9 241.8,307.6 242.9,339.2 244.1,304.0 245.2,312.2 246.3,302.0 247.4,309.9 248.5,298.0 249.7,305.7 250.8,316.6 251.9,302.0 253.0,330.1 254.1,305.7 255.3,317.1 256.4,302.0 257.5,362.7 258.6,307.7 259.7,289.0 260.9,304.9 262.0,302.0 263.1,320.0 264.2,304.0 265.3,302.4 266.5,291.0 267.6,292.8 268.7,352.5 269.8,300.0 270.9,318.4 272.1,296.5 273.2,308.4 274.3,298.0 275.4,320.3 276.5,291.0 277.7,294.6 278.8,304.9 279.9,285.4 281.0,343.6 282.1,300.0 283.3,310.5 284.4,296.0 285.5,297.8 286.6,310.3 287.7,319.4 288.9,303.0 290.0,319.8 291.1,335.7 292.2,305.0 293.3,327.8 294.5,307.0 295.6,329.2 296.7,318.0 297.8,350.8 298.9,342.4 300.1,287.6 301.2,320.5 302.3,337.3 303.4,307.0 304.5,342.8 305.6,297.8 306.8,305.4 307.9,305.9 309.0,288.5 310.1,325.8 311.2,317.2 312.4,345.6 313.5,315.2 314.6,303.0 315.7,307.0 316.8,298.0 318.0,343.0 319.1,305.0 320.2,304.2 321.3,311.2 322.4,288.5 323.6,294.0 324.7,288.5 325.8,310.0 326.9,317.8 328.0,303.0 329.2,316.3 330.3,366.0 331.4,307.0 332.5,317.4 333.6,299.6 334.8,345.0 335.9,322.5 337.0,301.5 338.1,332.0 339.2,315.8 340.4,345.6 341.5,309.7 342.6,303.0 343.7,313.2 344.8,310.8 346.0,292.0 347.1,301.7 348.2,310.7 349.3,357.6 350.4,339.7 351.6,294.0 352.7,310.5 353.8,326.3 354.9,307.0 356.0,314.4 357.2,311.6 358.3,292.0 359.4,302.1 360.5,286.7 361.6,340.5 362.8,345.8 363.9,301.5 365.0,324.5 366.1,345.3 367.2,305.0 368.4,315.0 369.5,297.8 370.6,310.9 371.7,326.2 372.8,305.0 374.0,316.7 375.1,314.2 376.2,304.0 377.3,325.7 378.4,342.3 379.6,321.7 380.7,303.0" fill="none" stroke="#0000e0" stroke-width="1"/>
<polyline points="380.7,303.0 381.8,315.3 382.9,315.8 384.0,310.3 385.2,297.0 386.3,316.0 387.4,305.3 388.5,290.0 389.6,298.6 390.7,290.0 391.9,302.1 393.0,331.3 394.1,321.3 395.2,301.0 396.3,307.5 397.5,303.0 398.6,328.3 399.7,312.5 400.8,349.0 401.9,308.0 403.1,322.8 404.2,317.9 405.3,318.9 406.4,309.0 407.5,323.0 408.7,327.1 409.8,306.0 410.9,319.8 412.0,361.0 413.1,300.0 414.3,309.2 415.4,337.3 416.5,302.0 417.6,347.3 418.7,342.6 419.9,306.0 421.0,343.1 422.1,323.9 423.2,325.7 424.3,304.0 425.5,317.2 426.6,314.8 427.7,306.0 428.8,347.6 429.9,321.1 431.1,321.9 432.2,303.0 433.3,337.9 434.4,337.5 435.5,292.0 436.7,301.5 437.8,318.5 438.9,346.5 440.0,302.0 441.1,306.1 442.3,306.1 443.4,313.6 444.5,299.0 445.6,307.1 446.7,309.5 447.9,303.0 449.0,391.8 450.1,339.2 451.2,337.5 452.3,305.0 453.5,326.6 454.6,316.7 455.7,307.0 456.8,316.3 457.9,316.5 459.1,345.2 460.2,310.0 461.3,345.9 462.4,324.4 463.5,320.9 464.7,312.0 465.8,335.4 466.9,323.1 468.0,318.4 469.1,322.0 470.2,313.0 471.4,379.8 472.5,323.6 473.6,312.0 474.7,318.5 475.8,314.7 477.0,314.6 478.1,307.0 479.2,318.3 480.3,316.7 481.4,306.0 482.6,318.2 483.7,319.8 484.8,313.9 485.9,309.0 487.0,322.2 488.2,321.1 489.3,321.5 490.4,298.0 491.5,318.2 492.6,332.0 493.8,319.0 494.9,310.0 496.0,379.8 497.1,334.4 498.2,324.1 499.4,323.6 500.5,310.0 501.6,326.9 502.7,314.8 503.8,361.0 505.0,306.0 506.1,313.7 507.2,314.7 508.3,320.9 509.4,305.0 510.6,323.3 511.7,338.0 512.8,323.8 513.9,321.3 515.0,350.8 516.2,322.8 517.3,343.0 518.4,320.8 519.5,297.0 520.6,322.1 521.8,319.4 522.9,323.7 524.0,324.7 525.1,310.0 526.2,319.5 527.4,350.3 528.5,343.7 529.6,312.0 530.7,339.1 531.8,320.3 533.0,321.0 534.1,327.8 535.2,304.0 536.3,322.5 537.4,350.5 538.6,317.0 539.7,296.0 540.8,318.5 541.9,326.6 543.0,315.0 544.2,292.0 545.3,336.8 546.4,320.0 547.5,297.0 548.6,303.4 549.8,312.0 550.9,329.6 552.0,306.0 553.1,328.9 554.2,318.7 555.3,322.2 556.5,304.0 557.6,310.7 558.7,306.8 559.8,321.0 560.9,295.0 562.1,310.4 563.2,379.8 564.3,327.2 565.4,351.3 566.5,310.0 567.7,326.5 568.8,329.1 569.9,323.8 571.0,301.0 572.1,345.5 573.3,332.5 574.4,312.5 575.5,398.6 576.6,320.7 577.7,323.4 578.9,340.8 580.0,320.1 581.1,306.0 582.2,314.4 583.3,328.5 584.5,309.6 585.6,304.0 586.7,350.2 587.8,318.1 588.9,331.8 590.1,354.0" fill="none" stroke="#0000e0" stroke-width="1.4"/>
<rect x="20" y="20" width="51" height="1" fill="#b4b4b4"/>
<rect x="72" y="20" width="51" height="1" fill="#b4b4b4"/>
<rect x="124" y="20" width="51" height="1" fill="#b4b4b4"/>
<rect x="176" y="20" width="51" height="1" fill="#b4b4b4"/>
<rect x="228" y="20" width="50" height="1" fill="#b4b4b4"/>
<rect x="280" y="20" width="51" height="1" fill="#b4b4b4"/>
<rect x="332" y="20" width="51" height="1" fill="#b4b4b4"/>
<rect x="384" y="20" width="51" height="1" fill="#b4b4b4"/>
<rect x="436" y="20" width="51" height="1" fill="#b4b4b4"/>
<rect x="488" y="20" width="50" height="1" fill="#b4b4b4"/>
<rect x="540" y="20" width="51" height="1" fill="#b4b4b4"/>
<rect x="20" y="81" width="7" height="1" fill="#b4b4b4"/>
<rect x="29" y="81" width="42" height="1" fill="#b4b4b4"/>
<rect x="72" y="81" width="51" height="1" fill="#b4b4b4"/>
<rect x="124" y="81" width="51" height="1" fill="#b4b4b4"/>
<rect x="176" y="81" width="51" height="1" fill="#b4b4b4"/>
<rect x="228" y="81" width="50" height="1" fill="#b4b4b4"/>
<rect x="280" y="81" width="51" height="1" fill="#b4b4b4"/>
<rect x="332" y="81" width="51" height="1" fill="#b4b4b4"/>
<rect x="384" y="81" width="51" height="1" fill="#b4b4b4"/>
<rect x="436" y="81" width="51" height="1" fill="#b4b4b4"/>
<rect x="488" y="81" width="50" height="1" fill="#b4b4b4"/>
<rect x="540" y="81" width="51" height="1" fill="#b4b4b4"/>
<rect x="27" y="81" width="2" height="1" fill="#d2cee8"/>
<rect x="31" y="142" width="1" height="1" fill="#b4b4b4"/>
<rect x="34" y="142" width="5" height="1" fill="#b4b4b4"/>
<rect x="40" y="142" width="2" height="1" fill="#b4b4b4"/>
<rect x="44" y="142" width="1" height="1" fill="#b4b4b4"/>
<rect x="47" y="142" width="5" height="1" fill="#b4b4b4"/>
<rect x="53" y="142" width="15" height="1" fill="#b4b4b4"/>
<rect x="69" y="142" width="2" height="1" fill="#b4b4b4"/>
<rect x="73" y="142" width="50" height="1" fill="#b4b4b4"/>
<rect x="124" y="142" width="51" height="1" fill="#b4b4b4"/>
<rect x="176" y="142" width="51" height="1" fill="#b4b4b4"/>
<rect x="228" y="142" width="50" height="1" fill="#b4b4b4"/>
<rect x="280" y="142" width="51" height="1" fill="#b4b4b4"/>
<rect x="332" y="142" width="51" height="1" fill="#b4b4b4"/>
<rect x="384" y="142" width="51" height="1" fill="#b4b4b4"/>
<rect x="436" y="142" width="51" height="1" fill="#b4b4b4"/>
<rect x="488" y="142" width="50" height="1" fill="#b4b4b4"/>
<rect x="540" y="142" width="51" height="1" fill="#b4b4b4"/>
<rect x="20" y="142" width="11" height="1" fill="#d2cee8"/>
<rect x="32" y="142" width="1" height="1" fill="#d2cee8"/>
<rect x="42" y="142" width="1" height="1" fill="#d2cee8"/>
<rect x="101" y="203" width="1" height="1" fill="#b4b4b4"/>
<rect x="128" y="203" width="2" height="1" fill="#b4b4b4"/>
<rect x="131" y="203" width="2" height="1" fill="#b4b4b4"/>
<rect x="145" y="203" width="1" height="1" fill="#b4b4b4"/>
<rect x="151" y="203" width="1" height="1" fill="#b4b4b4"/>
<rect x="155" y="203" width="1" height="1" fill="#b4b4b4"/>
<rect x="158" y="203" width="2" height="1" fill="#b4b4b4"/>
<rect x="164" y="203" width="1" height="1" fill="#b4b4b4"/>
<rect x="170" y="203" width="1" height="1" fill="#b4b4b4"/>
<rect x="187" y="203" width="2" height="1" fill="#b4b4b4"/>
<rect x="191" y="203" width="7" height="1" fill="#b4b4b4"/>
<rect x="201" y="203" width="26" height="1" fill="#b4b4b4"/>
<rect x="228" y="203" width="6" height="1" fill="#b4b4b4"/>
<rect x="235" y="203" width="3" height="1" fill="#b4b4b4"/>
<rect x="239" y="203" width="39" height="1" fill="#b4b4b4"/>
<rect x="280" y="203" width="51" height="1" fill="#b4b4b4"/>
<rect x="332" y="203" width="51" height="1" fill="#b4b4b4"/>
<rect x="384" y="203" width="51" height="1" fill="#b4b4b4"/>
<rect x="436" y="203" width="2" height="1" fill="#b4b4b4"/>
<rect x="441" y="203" width="46" height="1" fill="#b4b4b4"/>
<rect x="488" y="203" width="50" height="1" fill="#b4b4b4"/>
<rect x="540" y="203" width="51" height="1" fill="#b4b4b4"/>
<rect x="20" y="203" width="38" height="1" fill="#d2cee8"/>
<rect x="60" y="203" width="4" height="1" fill="#d2cee8"/>
<rect x="65" y="203" width="6" height="1" fill="#d2cee8"/>
<rect x="72" y="203" width="3" height="1" fill="#d2cee8"/>
<rect x="76" y="203" width="2" height="1" fill="#d2cee8"/>
<rect x="79" y="203" width="1" height="1" fill="#d2cee8"/>
<rect x="82" y="203" width="2" height="1" fill="#d2cee8"/>
<rect x="86" y="203" width="1" height="1" fill="#d2cee8"/>
<rect x="88" y="203" width="1" height="1" fill="#d2cee8"/>
<rect x="90" y="203" width="1" height="1" fill="#d2cee8"/>
<rect x="192" y="263" width="1" height="1" fill="#b4b4b4"/>
<rect x="222" y="263" width="2" height="1" fill="#b4b4b4"/>
<rect x="260" y="263" width="1" height="1" fill="#b4b4b4"/>
<rect x="265" y="263" width="1" height="1" fill="#b4b4b4"/>
<rect x="269" y="263" width="1" height="1" fill="#b4b4b4"/>
<rect x="277" y="263" width="1" height="1" fill="#b4b4b4"/>
<rect x="308" y="263" width="1" height="1" fill="#b4b4b4"/>
<rect x="318" y="263" width="8" height="1" fill="#b4b4b4"/>
<rect x="327" y="263" width="3" height="1" fill="#b4b4b4"/>
<rect x="332" y="263" width="9" height="1" fill="#b4b4b4"/>
<rect x="342" y="263" width="9" height="1" fill="#b4b4b4"/>
<rect x="352" y="263" width="31" height="1" fill="#b4b4b4"/>
<rect x="384" y="263" width="50" height="1" fill="#b4b4b4"/>
<rect x="443" y="263" width="44" height="1" fill="#b4b4b4"/>
<rect x="488" y="263" width="50" height="1" fill="#b4b4b4"/>
<rect x="540" y="263" width="51" height="1" fill="#b4b4b4"/>
<rect x="20" y="263" width="51" height="1" fill="#d2cee8"/>
<rect x="72" y="263" width="34" height="1" fill="#d2cee8"/>
<rect x="107" y="263" width="1" height="1" fill="#d2cee8"/>
<rect x="111" y="263" width="11" height="1" fill="#d2cee8"/>
<rect x="131" y="263" width="4" height="1" fill="#d2cee8"/>
<rect x="139" y="263" width="4" height="1" fill="#d2cee8"/>
<rect x="400" y="324" width="1" height="1" fill="#b4b4b4"/>
<rect x="417" y="324" width="1" height="1" fill="#b4b4b4"/>
<rect x="470" y="324" width="2" height="1" fill="#b4b4b4"/>
<rect x="496" y="324" width="2" height="1" fill="#b4b4b4"/>
<rect x="516" y="324" width="2" height="1" fill="#b4b4b4"/>
<rect x="528" y="324" width="1" height="1" fill="#b4b4b4"/>
<rect x="530" y="324" width="2" height="1" fill="#b4b4b4"/>
<rect x="536" y="324" width="2" height="1" fill="#b4b4b4"/>
<rect x="568" y="324" width="1" height="1" fill="#b4b4b4"/>
<rect x="572" y="324" width="1" height="1" fill="#b4b4b4"/>
<rect x="575" y="324" width="1" height="1" fill="#b4b4b4"/>
<rect x="578" y="324" width="2" height="1" fill="#b4b4b4"/>
<rect x="583" y="324" width="1" height="1" fill="#b4b4b4"/>
<rect x="590" y="324" width="1" height="1" fill="#b4b4b4"/>
<rect x="20" y="324" width="51" height="1" fill="#d2cee8"/>
<rect x="72" y="324" width="51" height="1" fill="#d2cee8"/>
<rect x="124" y="324" width="42" height="1" fill="#d2cee8"/>
<rect x="167" y="324" width="8" height="1" fill="#d2cee8"/>
<rect x="176" y="324" width="5" height="1" fill="#d2cee8"/>
<rect x="182" y="324" width="5" height="1" fill="#d2cee8"/>
<rect x="189" y="324" width="1" height="1" fill="#d2cee8"/>
<rect x="191" y="324" width="3" height="1" fill="#d2cee8"/>
<rect x="195" y="324" width="17" height="1" fill="#d2cee8"/>
<rect x="213" y="324" width="4" height="1" fill="#d2cee8"/>
<rect x="218" y="324" width="1" height="1" fill="#d2cee8"/>
<rect x="220" y="324" width="2" height="1" fill="#d2cee8"/>
<rect x="226" y="324" width="1" height="1" fill="#d2cee8"/>
<rect x="228" y="324" width="2" height="1" fill="#d2cee8"/>
<rect x="231" y="324" width="6" height="1" fill="#d2cee8"/>
<rect x="239" y="324" width="3" height="1" fill="#d2cee8"/>
<rect x="243" y="324" width="14" height="1" fill="#d2cee8"/>
<rect x="258" y="324" width="10" height="1" fill="#d2cee8"/>
<rect x="269" y="324" width="9" height="1" fill="#d2cee8"/>
<rect x="280" y="324" width="1" height="1" fill="#d2cee8"/>
<rect x="282" y="324" width="8" height="1" fill="#d2cee8"/>
<rect x="292" y="324" width="1" height="1" fill="#d2cee8"/>
<rect x="294" y="324" width="1" height="1" fill="#d2cee8"/>
<rect x="296" y="324" width="1" height="1" fill="#d2cee8"/>
<rect x="299" y="324" width="2" height="1" fill="#d2cee8"/>
<rect x="303" y="324" width="1" height="1" fill="#d2cee8"/>
<rect x="305" y="324" width="7" height="1" fill="#d2cee8"/>
<rect x="313" y="324" width="5" height="1" fill="#d2cee8"/>
<rect x="319" y="324" width="10" height="1" fill="#d2cee8"/>
<rect x="332" y="324" width="2" height="1" fill="#d2cee8"/>
<rect x="336" y="324" width="2" height="1" fill="#d2cee8"/>
<rect x="339" y="324" width="1" height="1" fill="#d2cee8"/>
<rect x="341" y="324" width="8" height="1" fill="#d2cee8"/>
<rect x="351" y="324" width="10" height="1" fill="#d2cee8"/>
<rect x="363" y="324" width="2" height="1" fill="#d2cee8"/>
<rect x="367" y="324" width="10" height="1" fill="#d2cee8"/>
<rect x="379" y="324" width="4" height="1" fill="#d2cee8"/>
<rect x="384" y="324" width="9" height="1" fill="#d2cee8"/>
<rect x="394" y="324" width="4" height="1" fill="#d2cee8"/>
<rect x="399" y="324" width="1" height="1" fill="#d2cee8"/>
<rect x="401" y="324" width="7" height="1" fill="#d2cee8"/>
<rect x="409" y="324" width="2" height="1" fill="#d2cee8"/>
<rect x="413" y="324" width="2" height="1" fill="#d2cee8"/>
<rect x="416" y="324" width="1" height="1" fill="#d2cee8"/>
<rect x="419" y="324" width="1" height="1" fill="#d2cee8"/>
<rect x="423" y="324" width="5" height="1" fill="#d2cee8"/>
<rect x="430" y="324" width="3" height="1" fill="#d2cee8"/>
<rect x="436" y="324" width="2" height="1" fill="#d2cee8"/>
<rect x="439" y="324" width="9" height="1" fill="#d2cee8"/>
<rect x="452" y="324" width="1" height="1" fill="#d2cee8"/>
<rect x="454" y="324" width="4" height="1" fill="#d2cee8"/>
<rect x="460" y="324" width="1" height="1" fill="#d2cee8"/>
<rect x="462" y="324" width="3" height="1" fill="#d2cee8"/>
<rect x="467" y="324" width="3" height="1" fill="#d2cee8"/>
<rect x="472" y="324" width="15" height="1" fill="#d2cee8"/>
<rect x="488" y="324" width="4" height="1" fill="#d2cee8"/>
<rect x="493" y="324" width="2" height="1" fill="#d2cee8"/>
<rect x="498" y="324" width="3" height="1" fill="#d2cee8"/>
<rect x="502" y="324" width="1" height="1" fill="#d2cee8"/>
<rect x="505" y="324" width="6" height="1" fill="#d2cee8"/>
<rect x="513" y="324" width="1" height="1" fill="#d2cee8"/>
<rect x="518" y="324" width="8" height="1" fill="#d2cee8"/>
<rect x="529" y="324" width="1" height="1" fill="#d2cee8"/>
<rect x="532" y="324" width="4" height="1" fill="#d2cee8"/>
<rect x="540" y="324" width="5" height="1" fill="#d2cee8"/>
<rect x="546" y="324" width="7" height="1" fill="#d2cee8"/>
<rect x="554" y="324" width="8" height="1" fill="#d2cee8"/>
<rect x="566" y="324" width="2" height="1" fill="#d2cee8"/>
<rect x="570" y="324" width="2" height="1" fill="#d2cee8"/>
<rect x="574" y="324" width="1" height="1" fill="#d2cee8"/>
<rect x="577" y="324" width="1" height="1" fill="#d2cee8"/>
<rect x="580" y="324" width="3" height="1" fill="#d2cee8"/>
<rect x="584" y="324" width="2" height="1" fill="#d2cee8"/>
<rect x="20" y="385" width="51" height="1" fill="#d2cee8"/>
<rect x="72" y="385" width="51" height="1" fill="#d2cee8"/>
<rect x="124" y="385" width="51" height="1" fill="#d2cee8"/>
<rect x="176" y="385" width="51" height="1" fill="#d2cee8"/>
<rect x="228" y="385" width="50" height="1" fill="#d2cee8"/>
<rect x="280" y="385" width="51" height="1" fill="#d2cee8"/>
<rect x="332" y="385" width="51" height="1" fill="#d2cee8"/>
<rect x="384" y="385" width="51" height="1" fill="#d2cee8"/>
<rect x="436" y="385" width="51" height="1" fill="#d2cee8"/>
<rect x="488" y="385" width="50" height="1" fill="#d2cee8"/>
<rect x="540" y="385" width="35" height="1" fill="#d2cee8"/>
<rect x="576" y="385" width="15" height="1" fill="#d2cee8"/>
<g style="mix-blend-mode:multiply"><rect x="71" y="20" width="1" height="427" fill="#909090"/><rect x="123" y="20" width="1" height="427" fill="#909090"/><rect x="175" y="20" width="1" height="427" fill="#909090"/><rect x="227" y="20" width="1" height="427" fill="#909090"/><rect x="278" y="20" width="2" height="427" fill="#808080"/><rect x="331" y="20" width="1" height="427" fill="#909090"/><rect x="383" y="20" width="1" height="427" fill="#909090"/><rect x="435" y="20" width="1" height="427" fill="#909090"/><rect x="487" y="20" width="1" height="427" fill="#909090"/><rect x="538" y="20" width="2" height="427" fill="#808080"/><rect x="591" y="20" width="1" height="427" fill="#909090"/></g>
<rect x="18" y="20" width="2" height="427" fill="#808080"/>
</g>

<rect x="637" y="36" width="10" height="414" fill="#b8b8b8"/>
<rect x="653" y="47" width="10" height="403" fill="#b8b8b8"/>
<rect x="633.5" y="32.5" width="9" height="413" fill="#ff8080" stroke="#000" stroke-width="1"/>
<rect x="649.5" y="43.5" width="9" height="402" fill="#8080ff" stroke="#000030" stroke-width="1"/>

<text x="18.5" y="16" text-anchor="middle">0</text>
<text x="18.5" y="457" text-anchor="middle">0</text>
<text x="70.5" y="16" text-anchor="middle">2</text>
<text x="70.5" y="457" text-anchor="middle">2</text>
<text x="122.5" y="16" text-anchor="middle">4</text>
<text x="122.5" y="457" text-anchor="middle">4</text>
<text x="174.5" y="16" text-anchor="middle">6</text>
<text x="174.5" y="457" text-anchor="middle">6</text>
<text x="226.5" y="16" text-anchor="middle">8</text>
<text x="226.5" y="457" text-anchor="middle">8</text>
<text x="278.5" y="16" text-anchor="middle">10</text>
<text x="278.5" y="457" text-anchor="middle">10</text>
<text x="330.5" y="16" text-anchor="middle">12</text>
<text x="330.5" y="457" text-anchor="middle">12</text>
<text x="382.5" y="16" text-anchor="middle">14</text>
<text x="382.5" y="457" text-anchor="middle">14</text>
<text x="434.5" y="16" text-anchor="middle">16</text>
<text x="434.5" y="457" text-anchor="middle">16</text>
<text x="486.5" y="16" text-anchor="middle">18</text>
<text x="486.5" y="457" text-anchor="middle">18</text>
<text x="538.5" y="16" text-anchor="middle">20</text>
<text x="538.5" y="457" text-anchor="middle">20</text>
<text x="590.5" y="16" text-anchor="middle">22</text>
<text x="590.5" y="457" text-anchor="middle">22</text>
<text x="594.5" y="24">0</text>
<text x="594.5" y="85">-20</text>
<text x="594.5" y="146">-40</text>
<text x="594.5" y="207">-60</text>
<text x="594.5" y="267">-80</text>
<text x="594.5" y="328">-100</text>
<text x="594.5" y="389">-120</text>
<text x="594.5" y="450">-140</text>
<text x="606" y="254">[dB]</text>
<text x="335.5" y="472" text-anchor="middle">[kHz]</text>
<text x="9" y="478">created by Hub Audio Tools</text>
</svg>
</body></html>
